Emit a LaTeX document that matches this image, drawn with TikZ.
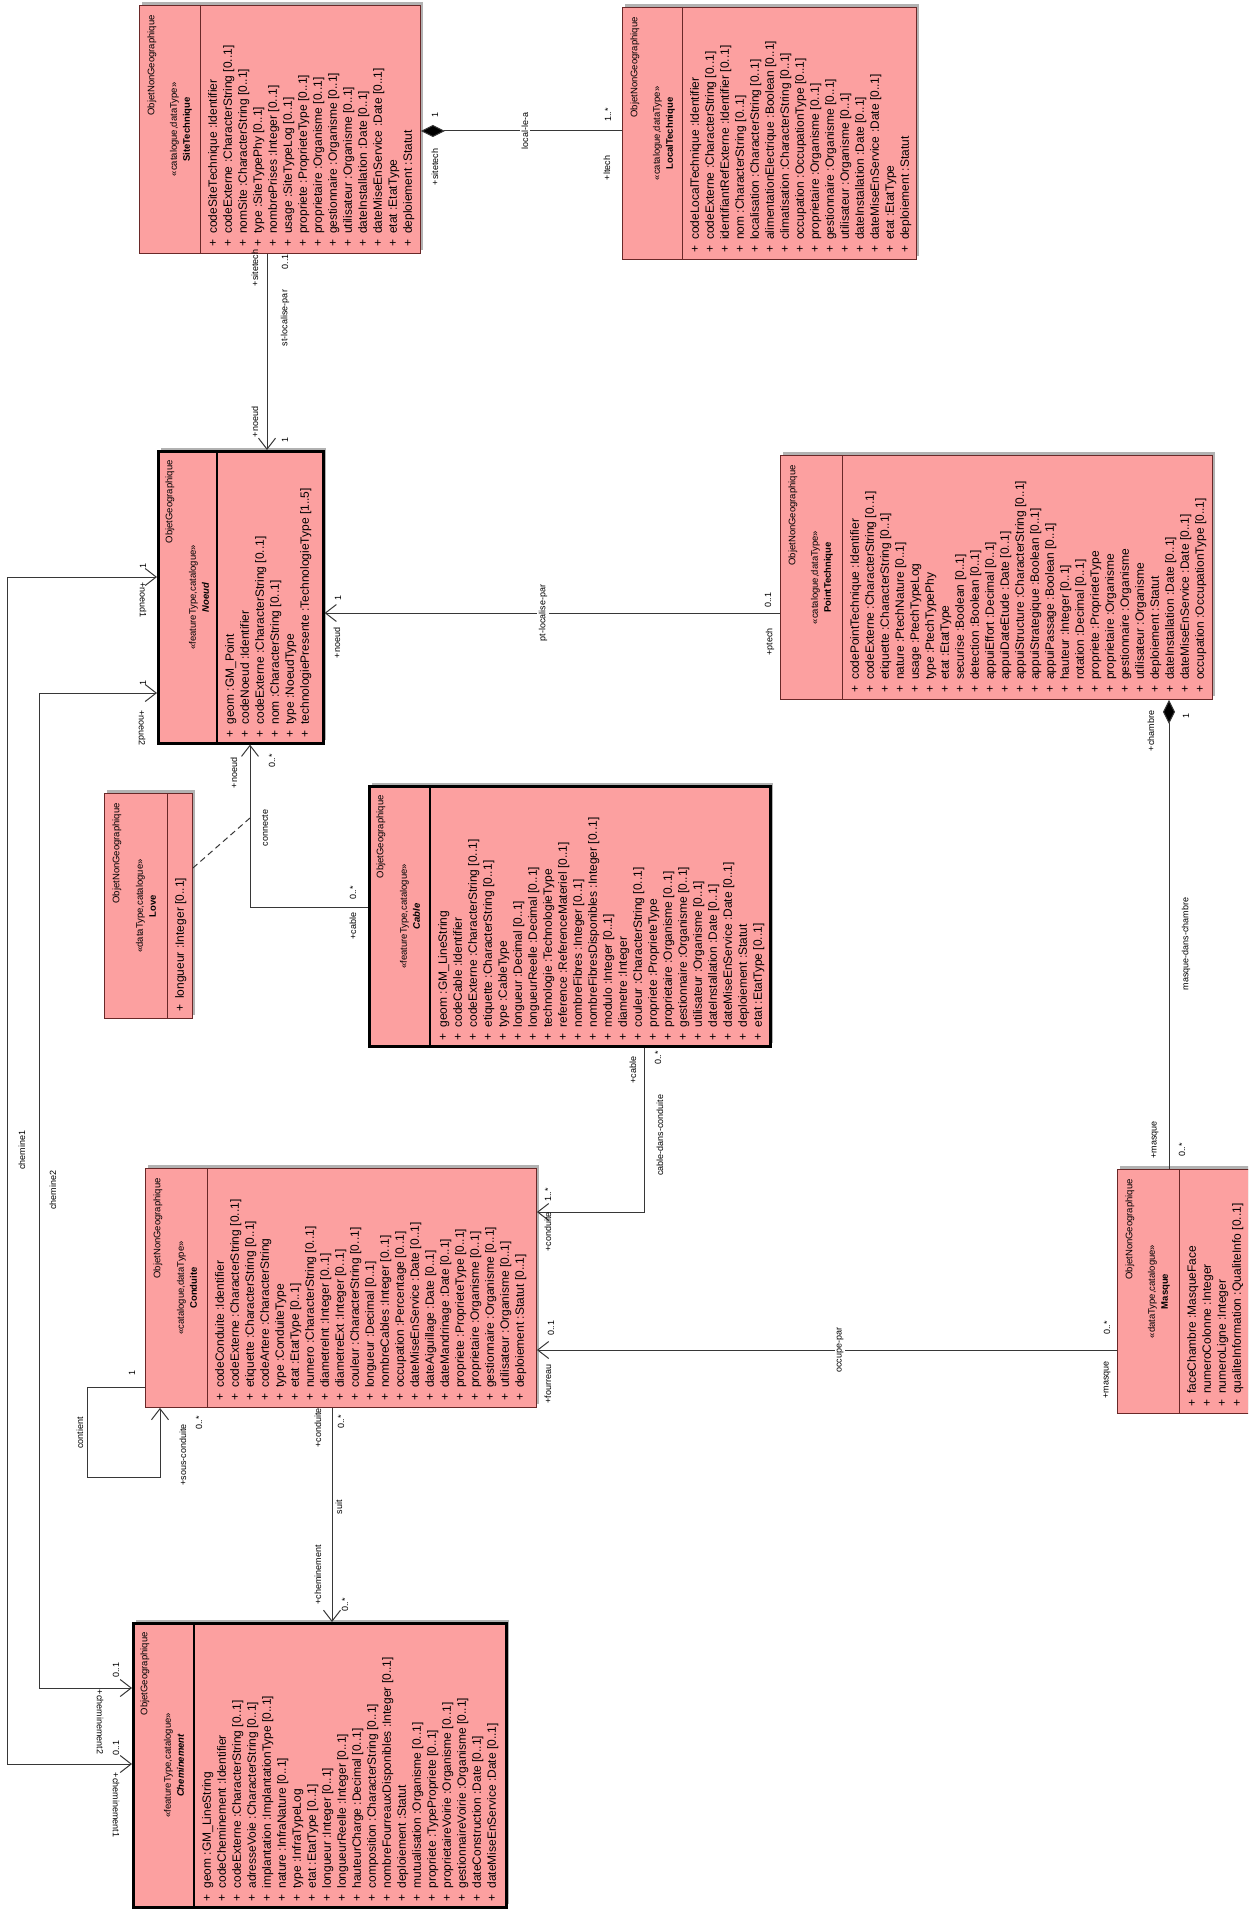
\documentclass[tikz,border=0pt]{standalone}
\usepackage{fontspec}
\setmainfont{Liberation Sans}
\usetikzlibrary{arrows.meta,shadows,calc}
\definecolor{clsfill}{RGB}{252,160,160}
\definecolor{clsline}{RGB}{105,40,40}
\definecolor{conn}{RGB}{55,55,55}
\newcommand{\ua}[1]{\makebox[13pt][l]{+}#1}
\newcommand{\mkclass}[7]{%
  \node[#2, minimum width=#5pt, minimum height=#6pt] (#1) at (#3,#4) {};
  \draw[#2div] ([xshift=#7pt]#1.north west) -- ([xshift=#7pt]#1.south west);}
\newcommand{\mkhead}[4]{%
  \node[nsf, rotate=90, anchor=east] (#1-ns) at ([xshift=13pt,yshift=-10pt]#1.north west) {#2};
  \node[hdf, rotate=90, align=center] (#1-hd) at ([xshift=42pt]#1.west) {«#3»\\#4};}
\tikzset{
  clsA/.style={draw=clsline, line width=0.9pt, fill=clsfill, inner sep=0pt, anchor=north west,
    drop shadow={shadow xshift=3pt,shadow yshift=3pt,opacity=0.3,fill=black}},
  clsAdiv/.style={draw=clsline, line width=0.9pt},
  clsB/.style={clsA, draw=black, line width=2.6pt},
  clsBdiv/.style={draw=black, line width=2.6pt},
  nsf/.style={font=\fontsize{9.5}{11}\selectfont, inner sep=0pt},
  hdf/.style={font=\fontsize{9.5}{13}\selectfont, inner sep=0pt},
  atf/.style={font=\fontsize{12}{15}\selectfont, inner sep=0pt, rotate=90, anchor=north west, align=left},
  lbl/.style={font=\fontsize{9}{11}\selectfont, inner sep=1pt, rotate=90},
  lblon/.style={lbl, fill=white, inner sep=2pt},
  lbld/.style={font=\fontsize{9}{11}\selectfont, inner sep=1pt, rotate=-90},
  asc/.style={draw=conn, line width=1pt},
  nav/.style={asc, -{Straight Barb[length=11pt,width=17pt]}},
  nav2/.style={asc, {Straight Barb[length=11pt,width=17pt]}-{Straight Barb[length=11pt,width=17pt]}},
  comp/.style={asc, {Diamond[length=24pt,width=12pt,fill=black]}-},
  dsh/.style={asc, dash pattern=on 6pt off 4pt}
}
\begin{document}
\begin{tikzpicture}[x=1pt,y=-1pt]
\useasboundingbox (0,0) rectangle (1248,1910);
\fill[white] (0,0) rectangle (1248,1910);
\clip (0,0) rectangle (1248,1910);

% ---------- classes ----------
\mkclass{site}{clsA}{139}{5}{281}{248}{61}
\mkhead{site}{ObjetNonGeographique}{catalogue,dataType}{\textbf{SiteTechnique}}
\node[atf] (site-at) at ([xshift=69pt,yshift=7pt]site.south west) {%
\ua{codeSiteTechnique :Identifier}\\
\ua{codeExterne :CharacterString [0..1]}\\
\ua{nomSite :CharacterString [0..1]}\\
\ua{type :SiteTypePhy [0..1]}\\
\ua{nombrePrises :Integer [0..1]}\\
\ua{usage :SiteTypeLog [0..1]}\\
\ua{propriete :ProprieteType [0..1]}\\
\ua{proprietaire :Organisme [0..1]}\\
\ua{gestionnaire :Organisme [0..1]}\\
\ua{utilisateur :Organisme [0..1]}\\
\ua{dateInstallation :Date [0..1]}\\
\ua{dateMiseEnService :Date [0..1]}\\
\ua{etat :EtatType}\\
\ua{deploiement :Statut}};

\mkclass{local}{clsA}{622}{7}{294}{252}{60}
\mkhead{local}{ObjetNonGeographique}{catalogue,dataType}{\textbf{LocalTechnique}}
\node[atf] (local-at) at ([xshift=68pt,yshift=7pt]local.south west) {%
\ua{codeLocalTechnique :Identifier}\\
\ua{codeExterne :CharacterString [0..1]}\\
\ua{identifiantRefExterne :Identifier [0..1]}\\
\ua{nom :CharacterString [0..1]}\\
\ua{localisation :CharacterString [0..1]}\\
\ua{alimentationElectrique :Boolean [0..1]}\\
\ua{climatisation :CharacterString [0..1]}\\
\ua{occupation :OccupationType [0..1]}\\
\ua{proprietaire :Organisme [0..1]}\\
\ua{gestionnaire :Organisme [0..1]}\\
\ua{utilisateur :Organisme [0..1]}\\
\ua{dateInstallation :Date [0..1]}\\
\ua{dateMiseEnService :Date [0..1]}\\
\ua{etat :EtatType}\\
\ua{deploiement :Statut}};

\mkclass{noeud}{clsB}{157}{450}{165}{292}{60}
\mkhead{noeud}{ObjetGeographique}{featureType,catalogue}{\textbf{\textit{Noeud}}}
\node[atf] (noeud-at) at ([xshift=68pt,yshift=7pt]noeud.south west) {%
\ua{geom :GM\_Point}\\
\ua{codeNoeud :Identifier}\\
\ua{codeExterne :CharacterString [0..1]}\\
\ua{nom :CharacterString [0..1]}\\
\ua{type :NoeudType}\\
\ua{technologiePresente :TechnologieType [1..5]}};

\mkclass{pt}{clsA}{780}{455}{432}{244}{62}
\mkhead{pt}{ObjetNonGeographique}{catalogue,dataType}{\textbf{PointTechnique}}
\node[atf] (pt-at) at ([xshift=70pt,yshift=7pt]pt.south west) {%
\ua{codePointTechnique :Identifier}\\
\ua{codeExterne :CharacterString [0..1]}\\
\ua{etiquette :CharacterString [0..1]}\\
\ua{nature :PtechNature [0..1]}\\
\ua{usage :PtechTypeLog}\\
\ua{type :PtechTypePhy}\\
\ua{etat :EtatType}\\
\ua{securise :Boolean [0..1]}\\
\ua{detection :Boolean [0..1]}\\
\ua{appuiEffort :Decimal [0..1]}\\
\ua{appuiDateEtude :Date [0..1]}\\
\ua{appuiStructure :CharacterString [0..1]}\\
\ua{appuiStrategique :Boolean [0..1]}\\
\ua{appuiPassage :Boolean [0..1]}\\
\ua{hauteur :Integer [0..1]}\\
\ua{rotation :Decimal [0..1]}\\
\ua{propriete :ProprieteType}\\
\ua{proprietaire :Organisme}\\
\ua{gestionnaire :Organisme}\\
\ua{utilisateur :Organisme}\\
\ua{deploiement :Statut}\\
\ua{dateInstallation :Date [0..1]}\\
\ua{dateMiseEnService :Date [0..1]}\\
\ua{occupation :OccupationType [0..1]}};

\mkclass{love}{clsA}{104}{793}{88}{225}{63}
\mkhead{love}{ObjetNonGeographique}{dataType,catalogue}{\textbf{Love}}
\node[atf] (love-at) at ([xshift=71pt,yshift=7pt]love.south west) {%
\ua{longueur :Integer [0..1]}};

\mkclass{cable}{clsB}{368}{785}{401}{260}{62}
\mkhead{cable}{ObjetGeographique}{featureType,catalogue}{\textbf{\textit{Cable}}}
\node[atf] (cable-at) at ([xshift=70pt,yshift=7pt]cable.south west) {%
\ua{geom :GM\_LineString}\\
\ua{codeCable :Identifier}\\
\ua{codeExterne :CharacterString [0..1]}\\
\ua{etiquette :CharacterString [0..1]}\\
\ua{type :CableType}\\
\ua{longueur :Decimal [0..1]}\\
\ua{longueurReelle :Decimal [0..1]}\\
\ua{technologie :TechnologieType}\\
\ua{reference :ReferenceMateriel [0..1]}\\
\ua{nombreFibres :Integer [0..1]}\\
\ua{nombreFibresDisponibles :Integer [0..1]}\\
\ua{modulo :Integer [0..1]}\\
\ua{diametre :Integer}\\
\ua{couleur :CharacterString [0..1]}\\
\ua{propriete :ProprieteType}\\
\ua{proprietaire :Organisme [0..1]}\\
\ua{gestionnaire :Organisme [0..1]}\\
\ua{utilisateur :Organisme [0..1]}\\
\ua{dateInstallation :Date [0..1]}\\
\ua{dateMiseEnService :Date [0..1]}\\
\ua{deploiement :Statut}\\
\ua{etat :EtatType [0..1]}};

\mkclass{conduite}{clsA}{145}{1168}{391}{239}{62}
\mkhead{conduite}{ObjetNonGeographique}{catalogue,dataType}{\textbf{Conduite}}
\node[atf] (conduite-at) at ([xshift=70pt,yshift=7pt]conduite.south west) {%
\ua{codeConduite :Identifier}\\
\ua{codeExterne :CharacterString [0..1]}\\
\ua{etiquette :CharacterString [0..1]}\\
\ua{codeArtere :CharacterString}\\
\ua{type :ConduiteType}\\
\ua{etat :EtatType [0..1]}\\
\ua{numero :CharacterString [0..1]}\\
\ua{diametreInt :Integer [0..1]}\\
\ua{diametreExt :Integer [0..1]}\\
\ua{couleur :CharacterString [0..1]}\\
\ua{longueur :Decimal [0..1]}\\
\ua{nombreCables :Integer [0..1]}\\
\ua{occupation :Percentage [0..1]}\\
\ua{dateMiseEnService :Date [0..1]}\\
\ua{dateAiguillage :Date [0..1]}\\
\ua{dateMandrinage :Date [0..1]}\\
\ua{propriete :ProprieteType [0..1]}\\
\ua{proprietaire :Organisme [0..1]}\\
\ua{gestionnaire :Organisme [0..1]}\\
\ua{utilisateur :Organisme [0..1]}\\
\ua{deploiement :Statut [0..1]}};

\mkclass{masque}{clsA}{1117}{1169}{140}{244}{62}
\mkhead{masque}{ObjetNonGeographique}{dataType,catalogue}{\textbf{Masque}}
\node[atf] (masque-at) at ([xshift=70pt,yshift=7pt]masque.south west) {%
\ua{faceChambre :MasqueFace}\\
\ua{numeroColonne :Integer}\\
\ua{numeroLigne :Integer}\\
\ua{qualiteInformation :QualiteInfo [0..1]}};

\mkclass{chem}{clsB}{132}{1622}{373}{284}{62}
\mkhead{chem}{ObjetGeographique}{featureType,catalogue}{\textbf{\textit{Cheminement}}}
\node[atf] (chem-at) at ([xshift=70pt,yshift=7pt]chem.south west) {%
\ua{geom :GM\_LineString}\\
\ua{codeCheminement :Identifier}\\
\ua{codeExterne :CharacterString [0..1]}\\
\ua{adresseVoie :CharacterString [0..1]}\\
\ua{implantation :ImplantationType [0..1]}\\
\ua{nature :InfraNature [0..1]}\\
\ua{type :InfraTypeLog}\\
\ua{etat :EtatType [0..1]}\\
\ua{longueur :Integer [0..1]}\\
\ua{longueurReelle :Integer [0..1]}\\
\ua{hauteurCharge :Decimal [0..1]}\\
\ua{composition :CharacterString [0..1]}\\
\ua{nombreFourreauxDisponibles :Integer [0..1]}\\
\ua{deploiement :Statut}\\
\ua{mutualisation :Organisme [0..1]}\\
\ua{propriete :TypePropriete [0..1]}\\
\ua{proprietaireVoirie :Organisme [0..1]}\\
\ua{gestionnaireVoirie :Organisme [0..1]}\\
\ua{dateConstruction :Date [0..1]}\\
\ua{dateMiseEnService :Date [0..1]}};

% ---------- routing coordinates ----------
\coordinate (kLoc) at (0,131);
\coordinate (kSt) at (267,0);
\coordinate (kPt) at (0,613);
\coordinate (kCon) at (250,907);
\coordinate (kCh1a) at (7,577);
\coordinate (kCh1b) at (7,1764);
\coordinate (kCh2a) at (39,693);
\coordinate (kCh2b) at (39,1688);
\coordinate (kCt1) at (87,1387);
\coordinate (kCt2) at (160,1477);
\coordinate (kSuit) at (332,0);
\coordinate (kCdc) at (644,1212);
\coordinate (kOcc) at (0,1350);
\coordinate (kMdc) at (1169,0);
\coordinate (kLove) at (250,818);

% ---------- connectors ----------
\draw[comp] (site.east |- kLoc) -- (local.west |- kLoc);
\draw[nav] (site.south -| kSt) -- (noeud.north -| kSt);
\draw[nav] (pt.west |- kPt) -- (noeud.east |- kPt);
\draw[nav] (cable.west |- kCon) -- (kCon) -- (noeud.south -| kCon);
\draw[nav2] (chem.west |- kCh1b) -- (kCh1b) -- (kCh1a) -- (noeud.west |- kCh1a);
\draw[nav2] (chem.west |- kCh2b) -- (kCh2b) -- (kCh2a) -- (noeud.west |- kCh2a);
\draw[nav] (conduite.west |- kCt1) -- (kCt1) |- (kCt2) -- (conduite.south -| kCt2);
\draw[nav] (conduite.south -| kSuit) -- (chem.north -| kSuit);
\draw[nav] (cable.south -| kCdc) |- (conduite.east |- kCdc);
\draw[nav] (masque.west |- kOcc) -- (conduite.east |- kOcc);
\draw[comp] (pt.south -| kMdc) -- (masque.north -| kMdc);
\draw[dsh] ([yshift=-75pt]love.north east) -- (kLove);

% ---------- labels ----------
\node[lbl] (a1) at (435,115) {1};
\node[lbl] (a2) at (435,167) {+sitetech};
\node[lblon] (a3) at (525,131) {local-le-a};
\node[lbl] (a4) at (608,115) {1..*};
\node[lbl] (a5) at (607,168) {+ltech};

\node[lbl] (b1) at (255,268) {+sitetech};
\node[lbl] (b2) at (285,262) {0..1};
\node[lbl] (b3) at (285,318) {st-localise-par};
\node[lbl] (b4) at (255,422) {+noeud};
\node[lbl] (b5) at (285,440) {1};

\node[lbl] (c1) at (770,642) {+ptech};
\node[lbl] (c2) at (768,600) {0..1};
\node[lblon] (c3) at (543,613) {pt-localise-par};
\node[lbl] (c4) at (337,643) {+noeud};
\node[lbl] (c5) at (338,598) {1};

\node[lbl] (d1) at (353,926) {+cable};
\node[lbl] (d2) at (353,893) {0..*};
\node[lbl] (d3) at (265,828) {connecte};
\node[lbl] (d4) at (234,773) {+noeud};
\node[lbl] (d5) at (272,761) {0..*};

\node[lbld] (e1) at (143,600) {+noeud1};
\node[lbl] (e2) at (143,566) {1};
\node[lbl] (e3) at (22,1150) {chemine1};
\node[lbl] (e4) at (116,1748) {0..1};
\node[lbld] (e5) at (116,1805) {+cheminement1};

\node[lbld] (f1) at (142,728) {+noeud2};
\node[lbl] (f2) at (143,683) {1};
\node[lbl] (f3) at (53,1190) {chemine2};
\node[lbl] (f4) at (116,1670) {0..1};
\node[lbld] (f5) at (100,1722) {+cheminement2};

\node[lbl] (g1) at (132,1373) {1};
\node[lbl] (g2) at (80,1433) {contient};
\node[lbl] (g3) at (183,1455) {+sous-conduite};
\node[lbl] (g4) at (199,1423) {0..*};

\node[lbl] (h1) at (318,1428) {+conduite};
\node[lbl] (h2) at (341,1422) {0..*};
\node[lbl] (h3) at (339,1507) {suit};
\node[lbl] (h4) at (318,1575) {+cheminement};
\node[lbl] (h5) at (345,1605) {0..*};

\node[lbl] (i1) at (633,1070) {+cable};
\node[lbl] (i2) at (658,1058) {0..*};
\node[lbl] (i3) at (660,1135) {cable-dans-conduite};
\node[lbl] (i4) at (548,1232) {+conduite};
\node[lbl] (i5) at (548,1195) {1..*};

\node[lbl] (j1) at (1107,1380) {+masque};
\node[lbl] (j2) at (1107,1328) {0..*};
\node[lblon] (j3) at (840,1350) {occupe-par};
\node[lbl] (j4) at (548,1384) {+fourreau};
\node[lbl] (j5) at (551,1328) {0..1};

\node[lbl] (k1) at (1151,731) {+chambre};
\node[lbl] (k2) at (1186,716) {1};
\node[lbl] (k3) at (1186,944) {masque-dans-chambre};
\node[lbl] (k4) at (1155,1140) {+masque};
\node[lbl] (k5) at (1182,1150) {0..*};
\end{tikzpicture}
\end{document}
